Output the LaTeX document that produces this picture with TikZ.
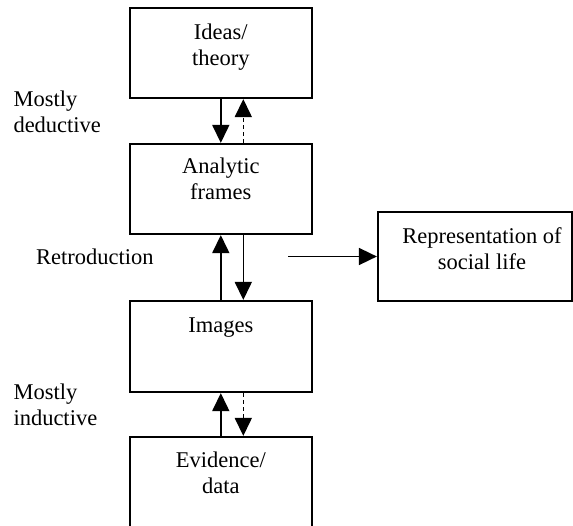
\documentclass[tikz,border=0pt]{standalone}
\usepackage{fontspec}
\setmainfont{Liberation Serif}
\usetikzlibrary{arrows.meta}
\begin{document}
\begin{tikzpicture}[x=1pt,y=-1pt,
  box/.style={draw, line width=2.2pt, inner sep=0pt, minimum width=181.7pt},
  lbl/.style={font=\fontsize{22.5}{26}\selectfont, inner sep=0pt, anchor=base},
  lbll/.style={lbl, anchor=base west},
  arr/.style={line width=1.6pt, -{Triangle[length=18pt,width=17pt]}},
  dsh/.style={arr, dash pattern=on 4pt off 3pt}]
\useasboundingbox (0,0) rectangle (573,525);
% boxes
\node[box, minimum height=90pt] (ideas) at (220.8,53) {};
\node[box, minimum height=90pt] (frames) at (220.8,189) {};
\node[box, minimum height=91pt] (images) at (220.8,346.5) {};
\node[box, minimum height=91pt] (evidence) at (220.8,482.5) {};
\node[box, minimum width=194pt, minimum height=89pt] (rep) at (475,256.5) {};
% box texts
\node[lbl] (ideasT) at (220.8,39.5) {\begin{tabular}[t]{@{}c@{}}Ideas/\\theory\end{tabular}};
\node[lbl] (framesT) at (220.8,173.5) {\begin{tabular}[t]{@{}c@{}}Analytic\\frames\end{tabular}};
\node[lbl] (imagesT) at (220.8,332) {Images};
\node[lbl] (evidenceT) at (220.8,467) {\begin{tabular}[t]{@{}c@{}}Evidence/\\data\end{tabular}};
\node[lbl] (repT) at (482,243) {\begin{tabular}[t]{@{}c@{}}Representation of\\social life\end{tabular}};
% side labels
\node[lbll] (ded) at (13.3,106) {\begin{tabular}[t]{@{}l@{}}Mostly\\deductive\end{tabular}};
\node[lbll] (retro) at (36,264) {Retroduction};
\node[lbll] (ind) at (13.3,399.5) {\begin{tabular}[t]{@{}l@{}}Mostly\\inductive\end{tabular}};
% arrows
\draw[arr] (ideas.south) -- (frames.north);
\draw[dsh] ([xshift=22.5pt]frames.north) -- ([xshift=22.5pt]ideas.south);
\draw[arr] (images.north) -- (frames.south);
\draw[arr] ([xshift=22.5pt]frames.south) -- ([xshift=22.5pt]images.north);
\draw[arr] (evidence.north) -- (images.south);
\draw[dsh] ([xshift=22.5pt]images.south) -- ([xshift=22.5pt]evidence.north);
\coordinate (hs) at (288,256.5);
\draw[arr] (hs) -- (rep.west);
\end{tikzpicture}
\end{document}
